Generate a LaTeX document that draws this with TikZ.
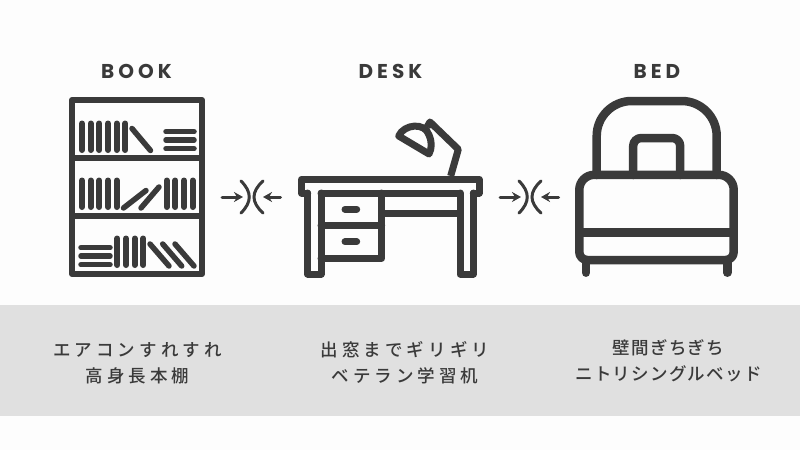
\documentclass[tikz,border=0pt]{standalone}
\usepackage{fontspec}
\usepackage{tikz}
\usetikzlibrary{arrows.meta}
\newfontfamily\titlefont[LetterSpace=20]{Poppins}
\newfontfamily\capfont[LetterSpace=23]{Noto Sans CJK JP Medium}
\newfontfamily\capfontb[LetterSpace=7]{Noto Sans CJK JP Medium}
\definecolor{ink}{HTML}{3A3A3A}
\definecolor{paper}{HTML}{FDFDFD}
\definecolor{band}{HTML}{E0E0E0}
\tikzset{
    >={Stealth[length=9pt, width=10pt]}, % arrow heads of the squeeze marks
    title/.style={text=ink, font=\titlefont\fontsize{20}{20}\selectfont\bfseries},
    caption/.style={text=ink, align=center, font=\capfont\fontsize{17.5}{26}\selectfont},
    captionb/.style={text=ink, align=center, font=\capfontb\fontsize{17.5}{26}\selectfont},
    frame/.style={draw=ink, line width=6pt, line join=round},
    book/.style={draw=ink, line width=6pt, line cap=round},
    lean/.style={draw=ink, line width=5.5pt, line cap=round},
    desk/.style={draw=ink, line width=7pt, line join=round, line cap=round},
    bed/.style={draw=ink, line width=8.5pt, line join=round, line cap=round},
    squeeze/.style={draw=ink, line width=3pt, line cap=round},
}

\begin{document}
\begin{tikzpicture}[x=1pt, y=-1pt]
    \useasboundingbox (0,0) rectangle (800,450);
    \fill[paper] (0,0) rectangle (800,450);
    \fill[band] (0,305) rectangle (800,416);

    \node[title] (booktitle) at (136.5,71) {BOOK};
    \node[title] (desktitle) at (390.5,71) {DESK};
    \node[title] (bedtitle) at (657,71) {BED};

    % bookcase
    \draw[frame] (72,100) rectangle (202,274);
    \draw[frame] (72,158) -- (202,158) (72,216) -- (202,216);
    \foreach \x in {82,90.7,99.3,108,116.7,125.3}
        \draw[book] (\x,123.5) -- (\x,150);
    \draw[lean] (132,128.5) -- (150.5,150.5);
    \foreach \y in {131.7,140,148.7}
        \draw[lean] (166,\y) -- (194,\y);
    \foreach \x in {82,90.7,99.3,108,116.7,166.7,175.3,184,192.7}
        \draw[book] (\x,180.5) -- (\x,207);
    \draw[lean] (123.5,208) -- (146,190.5);
    \draw[lean] (141,208) -- (159,187);
    \foreach \y in {247.7,256,264.7}
        \draw[lean] (81,\y) -- (110,\y);
    \foreach \x in {117.3,126,134.7,143.3}
        \draw[book] (\x,238.5) -- (\x,265);
    \foreach \x in {150,162.7,175}
        \draw[lean] (\x,244) -- (\x+19,266);

    % squeeze marks
    \foreach \dx in {0,278} {
        \draw[squeeze, ->] (222+\dx,197) -- (243+\dx,197);
        \draw[squeeze, ->] (280.5+\dx,197) -- (263+\dx,197);
        \draw[squeeze] (241+\dx,181) .. controls (252+\dx,192) and (252+\dx,202) .. (241+\dx,213);
        \draw[squeeze] (263+\dx,181) .. controls (251+\dx,192) and (251+\dx,202) .. (263+\dx,213);
    }

    % desk
    \draw[desk] (307.7,193) -- (301.5,193) -- (301.5,179.3) -- (479,179.3) -- (479,193) -- (473.3,193);
    \draw[desk] (307.7,193) -- (307.7,274) -- (321,274) -- (321,193);
    \draw[desk] (460,193) -- (460,274) -- (473.3,274) -- (473.3,193);
    \draw[desk] (321,193) -- (460,193);
    \draw[desk] (381.7,193) -- (381.7,258.3) -- (321,258.3);
    \draw[desk] (321,225.5) -- (381.7,225.5);
    \draw[desk] (381.7,213.3) -- (460,213.3);
    \draw[desk] (345,209.3) -- (356.7,209.3);
    \draw[desk] (345,241.7) -- (356.7,241.7);
    % lamp
    \draw[desk] (398.7,136) .. controls (404,124) and (425,122) .. (429,135) .. controls (432,142) and (432,148) .. (429,154) -- cycle;
    \draw[desk, line cap=butt] (427,127) -- (430,122) -- (458.3,149.3) -- (450.7,176);

    % bed
    \draw[bed, rounded corners=35pt] (596.7,175) -- (596.7,101) -- (716.7,101) -- (716.7,175);
    \draw[bed, rounded corners=8pt] (633.2,175) -- (633.2,138) -- (680.2,138) -- (680.2,175);
    \draw[bed, rounded corners=15pt] (579.3,220) -- (579.3,174.8) -- (733.7,174.8) -- (733.7,220) [rounded corners=8pt] -- (733.7,260) -- (579.3,260) -- cycle;
    \draw[bed] (579.3,232.3) -- (733.7,232.3);
    \draw[bed] (586,260) -- (586,272.7);
    \draw[bed] (727.3,260) -- (727.3,272.7);

    \node[caption] (bookcap) at (137.5,363) {エアコンすれすれ\\高身長本棚};
    \node[caption] (deskcap) at (405,363) {出窓までギリギリ\\ベテラン学習机};
    \node[captionb] (bedcap) at (668.5,360.5) {壁間ぎちぎち\\ニトリシングルベッド};
\end{tikzpicture}
\end{document}
